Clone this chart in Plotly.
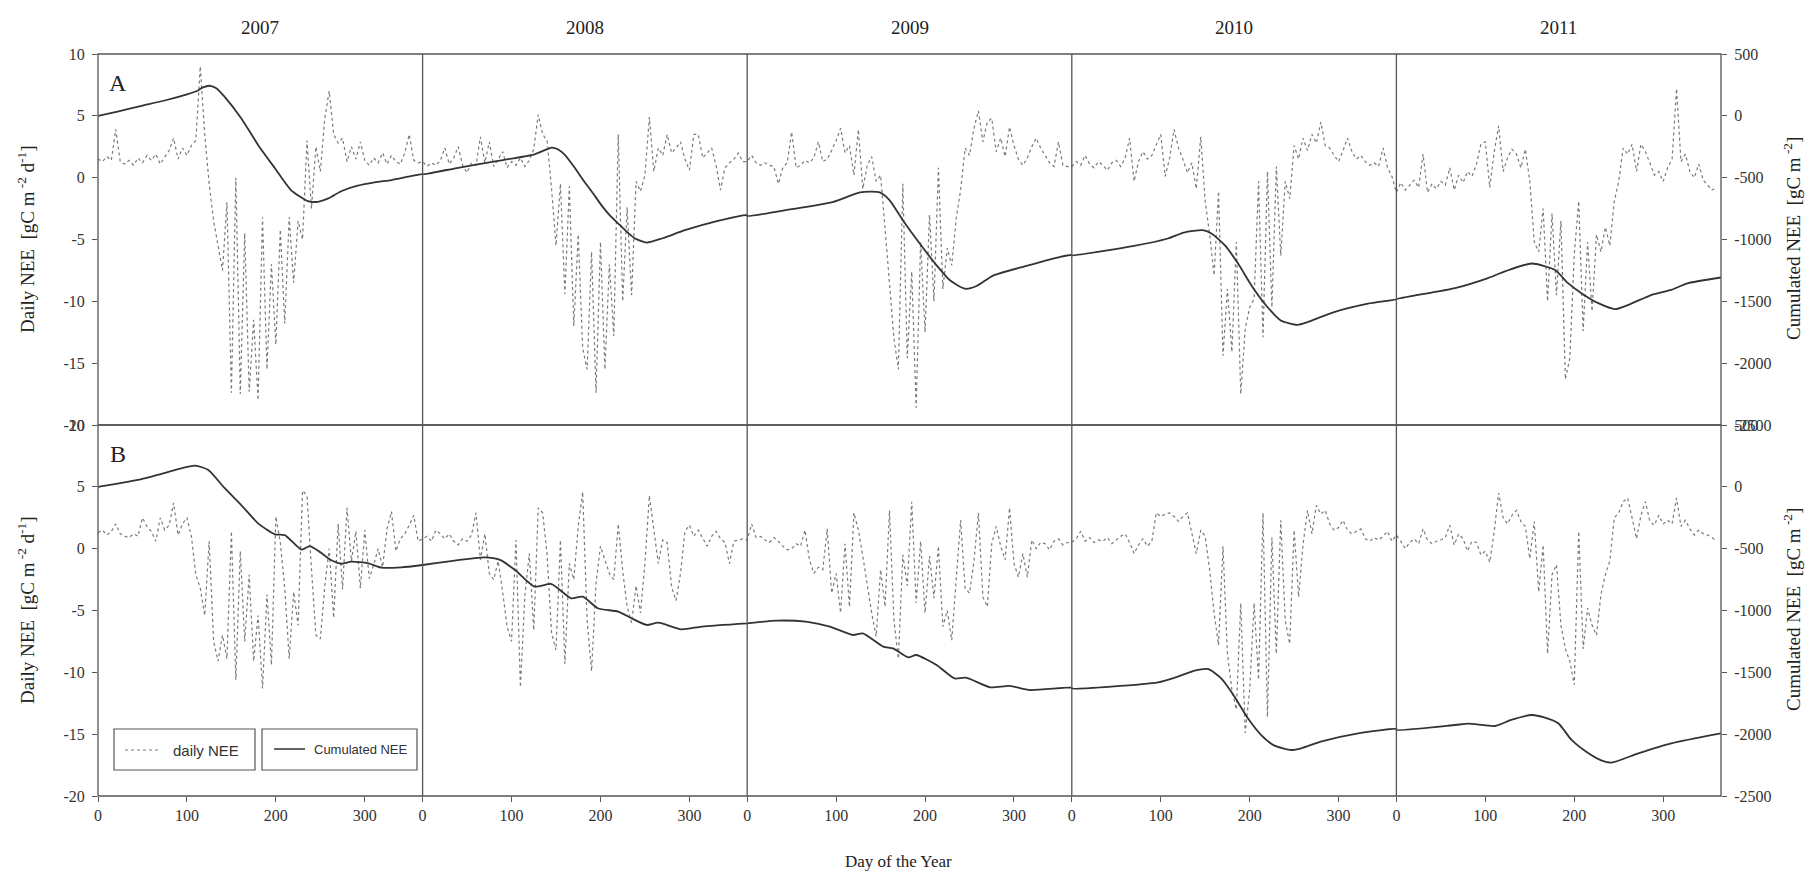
import plotly.graph_objects as go

# ---------------- DATA ----------------
years = [2007, 2008, 2009, 2010, 2011]
year_len = 365
doy = list(range(0, 361, 5))          # sampling days of the daily NEE series
tick_days = [0, 100, 200, 300]

# Panel A daily NEE (gC m-2 d-1)
daily_A_2007 = [1.5,1.3,1.7,1.4,3.9,1.3,1.1,1.4,1.0,1.6,1.2,1.8,1.4,1.9,1.1,1.7,2.2,3.2,1.5,2.4,1.8,2.6,3.0,9.0,3.5,-0.5,-3.5,-5.5,-7.5,-2.0,-17.4,0.0,-17.5,-4.5,-17.3,-11.5,-18.0,-3.2,-15.5,-7.0,-13.5,-4.2,-11.8,-3.2,-8.5,-3.5,-5.0,3.0,-2.5,2.5,0.5,4.8,7.0,3.5,2.8,3.2,1.3,2.5,1.5,2.9,1.4,1.0,1.6,1.2,2.0,1.1,1.8,1.3,1.1,2.0,3.5,1.4,1.2]
daily_A_2008 = [1.3,0.9,1.2,1.0,1.4,2.4,1.1,1.6,2.5,1.0,0.4,1.2,1.0,3.3,1.2,2.9,0.9,1.5,2.1,0.8,1.3,1.0,1.6,0.9,1.4,2.3,5.1,3.5,3.0,-0.9,-5.5,-0.5,-9.4,-0.7,-12.0,-4.6,-13.8,-15.5,-6.0,-17.4,-5.2,-15.5,-7.0,-12.8,3.5,-10.0,-2.4,-9.5,-0.3,-1.1,0.2,4.9,0.5,2.4,1.8,3.5,2.0,2.4,2.9,1.5,0.6,3.5,3.5,1.6,2.0,2.4,1.0,-1.0,0.8,1.2,1.5,2.0,1.3]
daily_A_2009 = [1.3,1.8,1.2,1.0,1.2,1.0,0.9,-0.5,0.8,1.2,3.7,0.8,1.0,1.4,1.2,1.6,2.9,1.3,1.5,2.2,3.0,4.0,2.0,2.6,0.2,3.9,-0.9,1.0,1.7,-0.3,0.2,-4.1,-8.4,-13.0,-15.5,-0.5,-14.6,-7.6,-18.6,-5.2,-12.5,-3.0,-10.0,0.8,-9.0,-5.7,-7.1,-3.3,-1.0,2.4,1.8,4.0,5.4,2.9,4.5,4.8,2.1,3.2,1.7,4.1,2.6,1.5,1.0,1.6,2.5,3.2,2.4,1.8,1.2,0.9,2.9,1.0,0.9]
daily_A_2010 = [0.9,1.3,1.0,1.8,1.1,0.8,1.3,1.0,0.6,1.2,1.4,0.9,1.6,3.2,-0.3,1.3,2.1,1.5,1.8,2.6,3.5,0.1,1.6,3.9,2.4,1.5,0.4,1.2,-0.9,3.3,-1.9,-4.6,-7.9,-1.1,-14.4,-9.0,-14.1,-5.2,-17.5,-12.2,-10.5,-9.8,-0.3,-12.9,0.5,-10.5,0.9,-6.3,-0.3,-1.7,2.6,1.5,3.2,2.2,3.5,2.8,4.5,2.6,2.4,1.8,1.3,2.2,3.2,2.1,1.5,1.8,1.3,1.0,1.2,0.9,2.4,0.8,0.1]
daily_A_2011 = [-1.2,-0.4,-1.0,-0.6,-0.2,-0.8,1.9,-1.2,-0.5,-0.9,-0.3,-0.6,0.8,-1.0,0.2,-0.4,0.5,0.1,1.1,2.7,2.9,-0.8,2.1,4.2,0.5,1.6,2.3,1.9,0.8,2.3,-0.3,-5.2,-6.0,-2.5,-10.0,-2.9,-9.5,-3.5,-16.3,-14.6,-6.2,-1.9,-12.4,-5.2,-10.8,-4.6,-6.0,-4.0,-5.5,-1.9,-0.3,2.4,1.9,2.7,0.5,2.7,2.1,1.2,0.2,0.5,-0.3,0.8,1.5,7.2,1.3,1.9,0.5,0.0,1.1,-0.2,-0.6,-1.0,-0.8]

# Panel B daily NEE (gC m-2 d-1)
daily_B_2007 = [1.3,1.5,1.1,1.4,2.0,1.2,1.0,0.9,1.2,1.0,2.5,1.8,1.4,0.6,2.5,1.5,1.9,3.7,1.1,2.0,2.5,1.0,-2.1,-3.2,-5.4,0.6,-7.5,-9.1,-7.0,-8.9,1.4,-10.6,-0.2,-7.5,-2.1,-9.1,-5.4,-11.3,-3.7,-9.4,2.6,0.5,-3.2,-8.9,-3.5,-6.2,4.7,4.3,-1.6,-7.0,-7.3,-3.0,0.0,-5.6,2.0,-3.3,3.3,-1.0,1.4,-3.2,1.5,-2.4,-1.3,0.0,-1.5,1.6,3.0,-0.2,0.8,1.2,1.9,2.7,0.6]
daily_B_2008 = [0.8,1.0,0.6,1.5,1.2,0.8,1.2,0.6,0.3,0.8,0.6,1.1,2.9,-0.9,1.2,-2.0,-2.5,-1.0,-3.5,-6.3,-7.5,0.7,-11.2,-3.8,-0.4,-6.6,3.3,2.9,-0.5,-6.8,-8.2,0.7,-9.3,-1.2,-2.5,1.8,4.6,-5.8,-9.9,-2.8,0.2,-1.0,-2.0,-2.5,2.0,-1.8,-4.7,-6.0,-3.0,-5.2,-1.2,4.3,1.5,-1.2,0.7,0.5,-3.1,-4.2,-2.0,1.4,1.9,1.0,1.5,0.8,0.2,1.0,1.4,0.8,0.5,-1.2,0.6,0.7,0.8]
daily_B_2009 = [0.7,2.0,0.9,1.0,0.7,0.5,0.9,0.6,0.2,-0.1,0.0,0.4,0.2,1.5,-0.9,-2.0,-1.5,-1.7,1.6,-3.6,-2.0,-5.2,0.4,-4.7,2.9,1.5,-0.6,-3.0,-5.2,-7.1,-1.7,-4.7,3.1,-5.8,-8.9,-0.5,-3.0,3.8,-4.4,0.6,-5.2,-0.6,-4.0,0.2,-6.3,-5.0,-7.4,-2.5,2.3,-3.2,-3.6,-1.0,2.9,-3.9,-4.7,0.4,1.8,0.2,-0.9,3.3,-1.2,-2.3,-0.4,-2.3,0.7,0.0,0.5,0.4,-0.1,0.6,0.8,0.3,0.5]
daily_B_2010 = [0.5,0.8,1.4,0.6,0.9,0.5,0.7,0.6,0.9,0.4,0.7,1.0,1.2,0.5,-0.4,0.3,0.8,0.2,0.6,2.9,2.6,2.8,2.9,2.6,2.2,2.6,2.9,1.2,-0.4,1.5,1.0,-1.7,-5.2,-7.8,0.2,-8.5,-11.4,-13.0,-4.4,-14.9,-11.4,-4.4,-10.6,2.9,-13.6,0.9,-8.5,2.3,-5.8,-7.7,1.5,-3.9,0.3,3.1,1.2,3.5,2.8,3.1,2.0,1.5,1.7,2.3,1.5,1.2,1.4,1.6,0.8,0.6,0.9,0.7,1.0,1.4,0.6]
daily_B_2011 = [1.1,0.6,0.0,0.5,0.8,0.4,1.6,0.7,0.4,0.6,0.7,0.9,1.9,0.3,1.2,0.8,-0.2,0.6,0.5,-0.5,-0.2,-1.1,1.4,4.5,2.5,2.0,2.7,3.1,2.2,1.8,-0.8,2.2,-3.5,0.3,-8.5,-2.1,-1.3,-6.2,-8.1,-9.1,-11.0,1.4,-8.1,-4.8,-6.2,-7.0,-3.7,-2.1,-1.0,2.5,2.9,3.8,4.1,2.5,0.8,2.7,3.8,2.2,1.9,2.7,2.0,2.3,2.0,4.1,1.8,2.3,1.6,1.1,1.5,1.2,1.1,0.9,0.6]

# Cumulated NEE (gC m-2): key days of each year and values
cum_A_days = {
    2007: [0,22,49,75,101,112,118,126,133,142,161,180,199,217,236,247,259,274,292,311,330,349,365],
    2008: [0,40,80,126,135,145,152,160,170,182,192,201,210,220,230,239,252,270,295,332,365],
    2009: [0,48,97,127,149,160,175,194,213,228,245,258,277,314,352,365],
    2010: [0,70,108,126,147,157,172,187,202,220,235,254,265,295,333,365],
    2011: [0,66,103,122,152,178,193,208,227,246,261,287,309,328,365],
}
cum_A_vals = {
    2007: [0,35,81,124,176,203,230,243,224,157,-19,-235,-424,-600,-689,-695,-668,-608,-565,-538,-519,-492,-470],
    2008: [-473,-420,-370,-311,-285,-257,-270,-316,-410,-533,-630,-722,-800,-871,-940,-992,-1025,-990,-925,-849,-803],
    2009: [-810,-757,-695,-619,-619,-681,-844,-1033,-1209,-1330,-1398,-1376,-1290,-1214,-1141,-1125],
    2010: [-1128,-1052,-992,-944,-925,-952,-1046,-1195,-1371,-1546,-1655,-1690,-1668,-1587,-1519,-1484],
    2011: [-1482,-1393,-1312,-1258,-1194,-1245,-1353,-1434,-1515,-1563,-1528,-1447,-1407,-1353,-1307],
}
cum_B_days = {
    2007: [0,49,67,109,124,142,161,180,199,210,229,238,249,262,274,285,304,319,341,365],
    2008: [0,32,70,87,104,126,145,167,180,197,220,235,252,265,291,314,365],
    2009: [0,33,66,93,119,130,153,164,181,190,213,233,246,273,295,318,365],
    2010: [0,97,119,138,153,168,183,198,213,228,247,258,280,322,365],
    2011: [0,66,81,111,129,152,167,182,197,216,231,242,272,309,365],
}
cum_B_vals = {
    2007: [0,63,96,171,136,-7,-147,-295,-384,-390,-508,-479,-524,-592,-622,-605,-619,-654,-651,-632],
    2008: [-632,-600,-570,-591,-673,-807,-786,-901,-888,-982,-1009,-1063,-1117,-1098,-1152,-1130,-1104],
    2009: [-1104,-1082,-1090,-1131,-1198,-1185,-1292,-1306,-1379,-1360,-1441,-1549,-1543,-1621,-1610,-1643,-1624],
    2010: [-1630,-1581,-1535,-1486,-1473,-1549,-1697,-1872,-2007,-2093,-2128,-2114,-2060,-1993,-1958],
    2011: [-1966,-1926,-1915,-1934,-1885,-1845,-1866,-1912,-2047,-2155,-2214,-2230,-2155,-2074,-1993],
}

left_vals = [-20, -15, -10, -5, 0, 5, 10]
right_vals = [-2500, -2000, -1500, -1000, -500, 0, 500]

daily_A = [daily_A_2007, daily_A_2008, daily_A_2009, daily_A_2010, daily_A_2011]
daily_B = [daily_B_2007, daily_B_2008, daily_B_2009, daily_B_2010, daily_B_2011]

# ---------------- BUILD ----------------
def concat_daily(series):
    xs, ys = [], []
    for i, vals in enumerate(series):
        xs += [i * year_len + d for d in doy]
        ys += vals
    return xs, ys

def concat_cum(days, vals):
    xs, ys = [], []
    for i, yr in enumerate(years):
        xs += [i * year_len + d for d in days[yr]]
        ys += vals[yr]
    return xs, ys

W, H = 1816, 875
L, R, T, B = 90, 1713, 46, 788
def px(x):
    return (x - L) / (R - L)
def py(y):
    return (B - y) / (B - T)

SERIF = "Liberation Serif"
SANS = "Liberation Sans"
DAILY_COLOR = "#7a7a7a"
CUM_COLOR = "#333333"
AX_COLOR = "#555555"
TXT = "#222222"

fig = go.Figure()
xa, ya = concat_daily(daily_A)
xb, yb = concat_daily(daily_B)
cxa, cya = concat_cum(cum_A_days, cum_A_vals)
cxb, cyb = concat_cum(cum_B_days, cum_B_vals)

fig.add_trace(go.Scatter(x=xa, y=ya, mode="lines", xaxis="x", yaxis="y3",
                         line=dict(color=DAILY_COLOR, width=1.2, dash="dot"), name="daily NEE"))
fig.add_trace(go.Scatter(x=cxa, y=cya, mode="lines", xaxis="x", yaxis="y4",
                         line=dict(color=CUM_COLOR, width=1.8, shape="spline", smoothing=0.6), name="Cumulated NEE"))
fig.add_trace(go.Scatter(x=xb, y=yb, mode="lines", xaxis="x", yaxis="y",
                         line=dict(color=DAILY_COLOR, width=1.2, dash="dot"), name="daily NEE"))
fig.add_trace(go.Scatter(x=cxb, y=cyb, mode="lines", xaxis="x", yaxis="y2",
                         line=dict(color=CUM_COLOR, width=1.8, shape="spline", smoothing=0.6), name="Cumulated NEE"))

tickvals = [i * year_len + t for i in range(len(years)) for t in tick_days]
ticktext = [str(t) for i in range(len(years)) for t in tick_days]

tickfont = dict(family=SERIF, size=16, color="#333333")
common_y = dict(showgrid=False, zeroline=False, showline=False, ticks="outside", ticklen=5,
                tickcolor=AX_COLOR, tickwidth=1.2, tickfont=tickfont, ticklabelstandoff=4)
left_text = [str(v) for v in left_vals]
right_text = [str(v) for v in right_vals]

fig.update_layout(
    width=W, height=H, autosize=False,
    margin=dict(l=L, r=W - R, t=T, b=H - B),
    paper_bgcolor="white", plot_bgcolor="white", showlegend=False,
    xaxis=dict(domain=[0, 1], range=[0, len(years) * year_len], anchor="y",
               tickvals=tickvals, ticktext=ticktext, ticks="outside", ticklen=5,
               tickcolor=AX_COLOR, tickwidth=1.2, showgrid=False, zeroline=False,
               showline=False, tickfont=tickfont),
    yaxis=dict(domain=[0, 0.5], range=[-20, 10], anchor="x", tickvals=left_vals, ticktext=left_text, **common_y),
    yaxis2=dict(overlaying="y", side="right", anchor="x", range=[-2500, 500], tickvals=right_vals,
                ticktext=right_text, **common_y),
    yaxis3=dict(domain=[0.5, 1], range=[-20, 10], anchor="x", tickvals=left_vals, ticktext=left_text, **common_y),
    yaxis4=dict(overlaying="y3", side="right", anchor="x", range=[-2500, 500], tickvals=right_vals,
                ticktext=right_text, **common_y),
)

shapes = []
for y0, y1 in [(0.5, 1), (0, 0.5)]:
    shapes.append(dict(type="rect", xref="paper", yref="paper", x0=0, x1=1, y0=y0, y1=y1,
                       line=dict(color=AX_COLOR, width=1.3), layer="above"))
for i in range(1, len(years)):
    shapes.append(dict(type="line", xref="x", yref="paper", x0=i * year_len, x1=i * year_len,
                       y0=0, y1=1, line=dict(color=AX_COLOR, width=1.3), layer="above"))
shapes.append(dict(type="rect", xref="paper", yref="paper", x0=px(106), x1=px(247), y0=py(762), y1=py(721),
                   line=dict(color=AX_COLOR, width=1.2), fillcolor="white", layer="above"))
shapes.append(dict(type="rect", xref="paper", yref="paper", x0=px(254), x1=px(409), y0=py(762), y1=py(721),
                   line=dict(color=AX_COLOR, width=1.2), fillcolor="white", layer="above"))
shapes.append(dict(type="line", xref="paper", yref="paper", x0=px(117), x1=px(152), y0=py(742), y1=py(742),
                   line=dict(color=DAILY_COLOR, width=1.2, dash="dot"), layer="above"))
shapes.append(dict(type="line", xref="paper", yref="paper", x0=px(266), x1=px(297), y0=py(741), y1=py(741),
                   line=dict(color=CUM_COLOR, width=1.5), layer="above"))

annotations = []
for i, yr in enumerate(years):
    annotations.append(dict(text=str(yr), xref="x", yref="paper", x=i * year_len + year_len / 2, y=py(20),
                            showarrow=False, xanchor="center", yanchor="middle",
                            font=dict(family=SERIF, size=19, color=TXT)))
annotations.append(dict(text="A", xref="paper", yref="paper", x=px(110), y=py(75), showarrow=False,
                        xanchor="center", yanchor="middle", font=dict(family=SERIF, size=24, color=TXT)))
annotations.append(dict(text="B", xref="paper", yref="paper", x=px(110), y=py(446), showarrow=False,
                        xanchor="center", yanchor="middle", font=dict(family=SERIF, size=24, color=TXT)))
left_title = "Daily NEE  [gC m<sup> -2</sup> d<sup>-1</sup>]"
right_title = "Cumulated NEE  [gC m<sup> -2</sup>]"
for yc in (231, 602):
    annotations.append(dict(text=left_title, xref="paper", yref="paper", x=px(18), y=py(yc), textangle=-90,
                            showarrow=False, xanchor="center", yanchor="middle",
                            font=dict(family=SERIF, size=19, color=TXT)))
    annotations.append(dict(text=right_title, xref="paper", yref="paper", x=px(1784), y=py(yc), textangle=-90,
                            showarrow=False, xanchor="center", yanchor="middle",
                            font=dict(family=SERIF, size=19, color=TXT)))
annotations.append(dict(text="Day of the Year", xref="paper", yref="paper", x=px(890), y=py(854),
                        showarrow=False, xanchor="center", yanchor="middle",
                        font=dict(family=SERIF, size=17, color=TXT)))
annotations.append(dict(text="daily NEE", xref="paper", yref="paper", x=px(163), y=py(742),
                        showarrow=False, xanchor="left", yanchor="middle",
                        font=dict(family=SANS, size=15, color="#333333")))
annotations.append(dict(text="Cumulated NEE", xref="paper", yref="paper", x=px(304), y=py(741),
                        showarrow=False, xanchor="left", yanchor="middle",
                        font=dict(family=SANS, size=13, color="#333333")))

fig.update_layout(shapes=shapes, annotations=annotations)
fig.write_html("out.html")
